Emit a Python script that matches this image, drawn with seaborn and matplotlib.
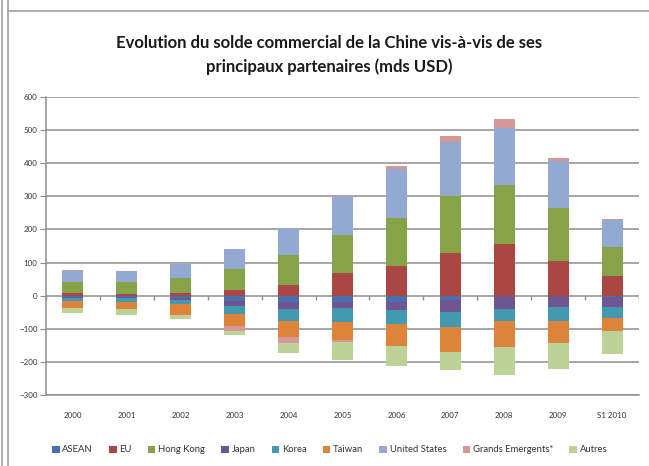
import numpy as np
import pandas as pd
import seaborn as sns
import matplotlib.pyplot as plt
from matplotlib.lines import Line2D
from matplotlib.patches import Patch

# Données (mds USD)
annees = ["2000", "2001", "2002", "2003", "2004", "2005", "2006", "2007", "2008", "2009", "S1 2010"]
asean = [-5, -5, -7, -16, -18, -18, -18, -14, -2, 0, -5]
eu = [7, 4, 7, 17, 33, 68, 90, 130, 156, 106, 59]
hong_kong = [35, 37, 47, 65, 90, 114, 145, 172, 177, 158, 89]
japan = [-1, -2, -5, -14, -22, -20, -26, -34, -37, -33, -28]
korea = [-11, -11, -13, -24, -36, -42, -43, -46, -38, -45, -34]
taiwan = [-20, -22, -32, -38, -49, -55, -65, -77, -78, -66, -41]
united_states = [32, 32, 43, 58, 80, 116, 147, 162, 172, 143, 80]
grands_emergents = [3, 3, 0, -15, -19, -6, 10, 17, 28, 10, 4]
autres = [-14, -17, -12, -11, -28, -52, -60, -52, -85, -76, -69]

series = {
    "ASEAN": asean,
    "EU": eu,
    "Hong Kong": hong_kong,
    "Japan": japan,
    "Korea": korea,
    "Taiwan": taiwan,
    "United States": united_states,
    "Grands Emergents*": grands_emergents,
    "Autres": autres,
}
couleurs = ["#4A70AC", "#AA4644", "#87A34A", "#6F5592", "#4399B0",
            "#DD843A", "#94A9D2", "#D69896", "#BBD397"]

df = pd.DataFrame(series, index=annees)

sns.set_style("white")
plt.rcParams['font.family'] = ['Lato', 'DejaVu Sans']

fig = plt.figure(figsize=(6.49, 4.66), dpi=100)
ax = fig.add_axes([46 / 649, 1 - 395 / 466, 593 / 649, 298 / 466])

# Empilement façon Excel : positifs vers le haut, négatifs vers le bas
pos_base = np.zeros(len(df))
neg_base = np.zeros(len(df))
for nom, couleur in zip(df.columns, couleurs):
    vals = df[nom].to_numpy(dtype=float)
    bottoms = np.where(vals >= 0, pos_base, neg_base)
    tmp = pd.DataFrame({"annee": annees, "valeur": vals})
    sns.barplot(data=tmp, x="annee", y="valeur", color=couleur, width=0.39,
                bottom=bottoms, ax=ax, zorder=3, linewidth=0, saturation=1)
    pos_base = pos_base + np.where(vals >= 0, vals, 0)
    neg_base = neg_base + np.where(vals < 0, vals, 0)

ax.set_xlim(-0.5, len(annees) - 0.5)
ax.set_ylim(-300, 600)
ax.set_yticks(np.arange(-300, 601, 100))
ax.yaxis.grid(True, color="#8e8e8e", linewidth=1.1, zorder=1)
ax.set_axisbelow(True)
ax.set_xlabel("")
ax.set_ylabel("")

for s in ["top", "right"]:
    ax.spines[s].set_visible(False)
ax.spines["left"].set_color("#8e8e8e")
ax.spines["left"].set_linewidth(1.1)
ax.spines["bottom"].set_color("#8e8e8e")
ax.spines["bottom"].set_linewidth(1.1)

ax.tick_params(axis="y", length=4, color="#8e8e8e", labelsize=5.7,
               labelcolor="#333333", pad=2, left=True)
ax.tick_params(axis="x", length=0, labelsize=5.7, labelcolor="#333333", pad=12)

# petites graduations sur l'axe du zéro
ax.vlines(np.arange(-0.5, len(annees)), 0, -12, color="#8e8e8e", linewidth=1, zorder=2)

# titre
fig.text(0.507, 1 - 55 / 466,
         "Evolution du solde commercial de la Chine vis-à-vis de ses\nprincipaux partenaires (mds USD)",
         ha="center", va="center", fontsize=12, fontweight="bold",
         color="#1a1a1a", linespacing=1.6)

# légende
handles = [Patch(facecolor=c, edgecolor="none") for c in couleurs]
fig.legend(handles, list(df.columns), loc="center", bbox_to_anchor=(0.508, 1 - 450 / 466),
           ncol=9, frameon=False, fontsize=6.8, handlelength=0.8, handleheight=0.8,
           handletextpad=0.3, columnspacing=1.7, labelcolor="#333333")

# cadre
for x in [2 / 649, 8 / 649]:
    fig.add_artist(Line2D([x, x], [0, 1], transform=fig.transFigure, color="#a0a0a0", linewidth=1.2))
fig.add_artist(Line2D([8 / 649, 1], [1 - 11 / 466, 1 - 11 / 466], transform=fig.transFigure,
                      color="#a0a0a0", linewidth=1.2))

fig.savefig("out.png", dpi=100)
